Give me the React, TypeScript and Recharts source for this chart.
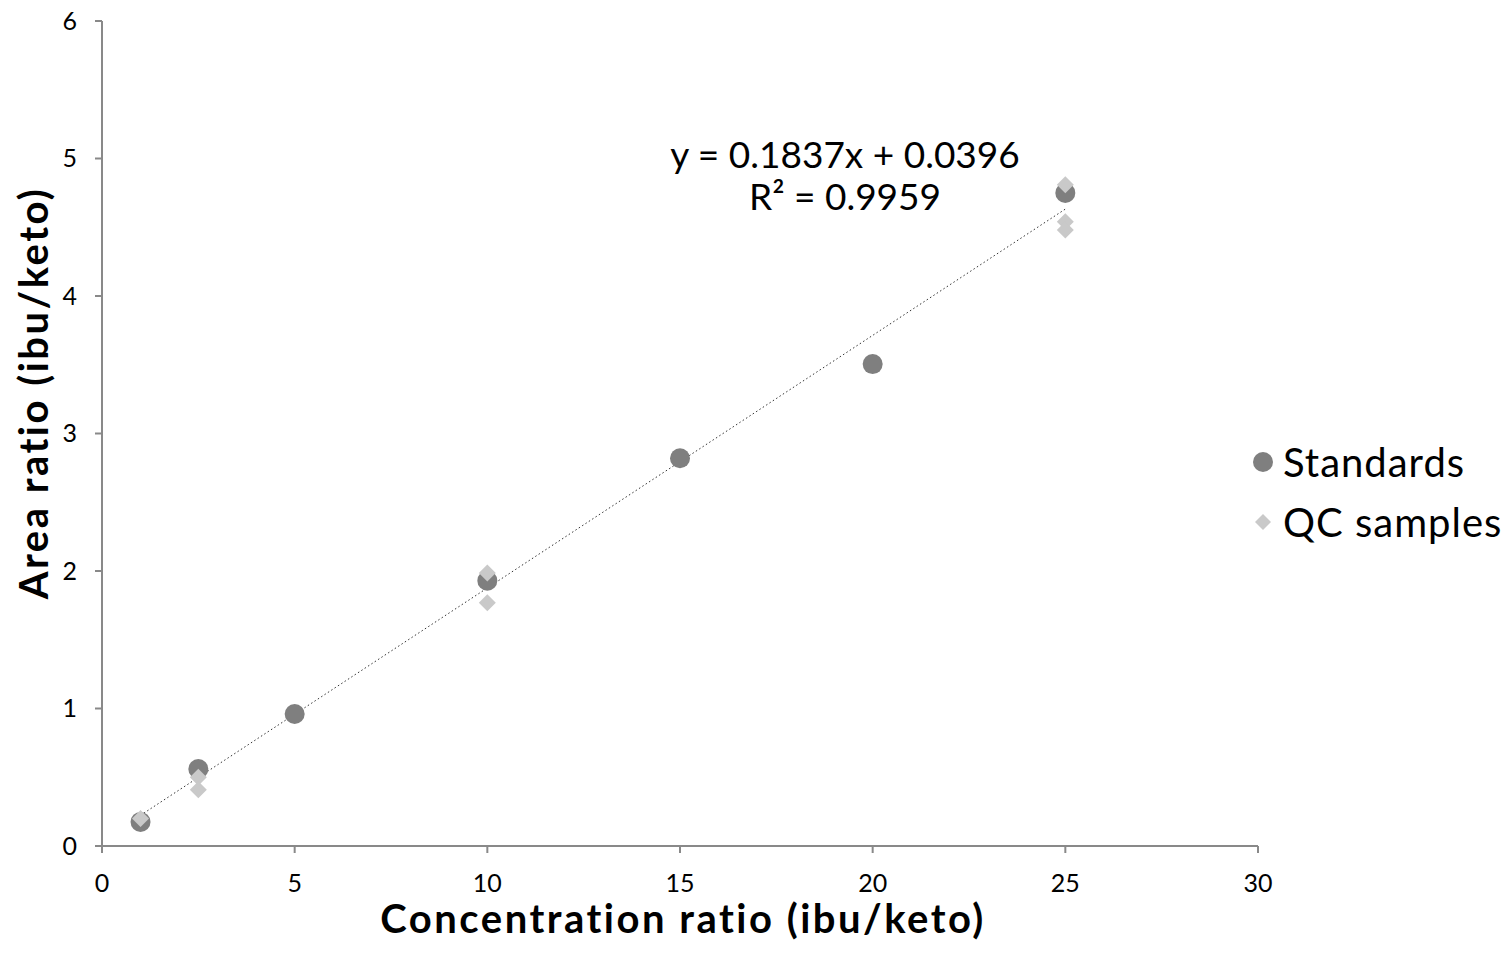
import {
  ScatterChart,
  Scatter,
  XAxis,
  YAxis,
  ReferenceLine,
} from "recharts";

// calibration standards
const stdX = [1, 2.5, 5, 10, 15, 20, 25];
const stdY = [0.175, 0.56, 0.96, 1.93, 2.82, 3.505, 4.75];

// quality control samples
const qcX = [1, 2.5, 2.5, 10, 10, 25, 25, 25];
const qcY = [0.2, 0.5, 0.41, 1.985, 1.77, 4.81, 4.54, 4.48];

const xTicks = [0, 5, 10, 15, 20, 25, 30];
const yTicks = [0, 1, 2, 3, 4, 5, 6];

// linear fit reported on the chart
const slope = 0.1837;
const intercept = 0.0396;
const rSquared = 0.9959;
const fitRange = [1, 25];

const standards = stdX.map((x, i) => ({ x, y: stdY[i] }));
const qcSamples = qcX.map((x, i) => ({ x, y: qcY[i] }));

const FONT = "'Century Gothic', 'URW Gothic', Lato, 'DejaVu Sans', sans-serif";
const AXIS = "#898989";

const Dot = (props: any) => (
  <circle cx={props.cx} cy={props.cy} r={10} fill="#7f7f7f" />
);

const Diamond = (props: any) => {
  const { cx, cy } = props;
  const s = 8.5;
  return (
    <path
      d={`M${cx},${cy - s} L${cx + s},${cy} L${cx},${cy + s} L${cx - s},${cy} Z`}
      fill="#c9c9c9"
    />
  );
};

export default function App() {
  return (
    <div
      style={{
        position: "absolute",
        left: 0,
        top: 0,
        width: 1508,
        height: 955,
        background: "#fff",
        fontFamily: FONT,
        color: "#000",
      }}
    >
      <ScatterChart
        width={1508}
        height={955}
        margin={{ top: 21, right: 250, left: 40, bottom: 49 }}
      >
        <XAxis
          type="number"
          dataKey="x"
          domain={[0, 30]}
          ticks={xTicks}
          height={60}
          stroke={AXIS}
          strokeWidth={2}
          tickSize={7}
          tickMargin={21}
          tick={{ fontSize: 25, fill: "#000", fontFamily: FONT }}
        />
        <YAxis
          type="number"
          dataKey="y"
          domain={[0, 6]}
          ticks={yTicks}
          width={62}
          stroke={AXIS}
          strokeWidth={2}
          tickSize={7}
          tickMargin={18}
          tick={{ fontSize: 25, fill: "#000", fontFamily: FONT }}
        />
        <ReferenceLine
          segment={[
            { x: fitRange[0], y: slope * fitRange[0] + intercept },
            { x: fitRange[1], y: slope * fitRange[1] + intercept },
          ]}
          stroke="#333"
          strokeWidth={1}
          strokeDasharray="1.5 2.5"
        />
        <Scatter data={standards} shape={Dot} isAnimationActive={false} />
        <Scatter data={qcSamples} shape={Diamond} isAnimationActive={false} />
      </ScatterChart>

      {/* fit equation */}
      <div
        style={{
          position: "absolute",
          left: 645,
          top: 133,
          width: 400,
          textAlign: "center",
          fontSize: 37,
          lineHeight: "42px",
        }}
      >
        <div>y = {slope}x + {intercept}</div>
        <div>R² = {rSquared}</div>
      </div>

      {/* axis titles */}
      <div
        style={{
          position: "absolute",
          left: 683,
          top: 918,
          transform: "translate(-50%, -50%)",
          whiteSpace: "nowrap",
          fontSize: 40,
          fontWeight: "bold",
          letterSpacing: 2.5,
        }}
      >
        Concentration ratio (ibu/keto)
      </div>
      <div
        style={{
          position: "absolute",
          left: 33,
          top: 393,
          transform: "translate(-50%, -50%) rotate(-90deg)",
          whiteSpace: "nowrap",
          fontSize: 40,
          fontWeight: "bold",
          letterSpacing: 2.5,
        }}
      >
        Area ratio (ibu/keto)
      </div>

      {/* legend */}
      <div
        style={{
          position: "absolute",
          left: 1250,
          top: 438,
          fontSize: 40,
          letterSpacing: 1,
        }}
      >
        <div style={{ display: "flex", alignItems: "center", height: 48 }}>
          <svg width={26} height={26}>
            <circle cx={13} cy={13} r={10} fill="#7f7f7f" />
          </svg>
          <span style={{ marginLeft: 7 }}>Standards</span>
        </div>
        <div style={{ display: "flex", alignItems: "center", height: 48, marginTop: 12 }}>
          <svg width={26} height={26}>
            <path d="M13,5 L21,13 L13,21 L5,13 Z" fill="#c9c9c9" />
          </svg>
          <span style={{ marginLeft: 7 }}>QC samples</span>
        </div>
      </div>
    </div>
  );
}
